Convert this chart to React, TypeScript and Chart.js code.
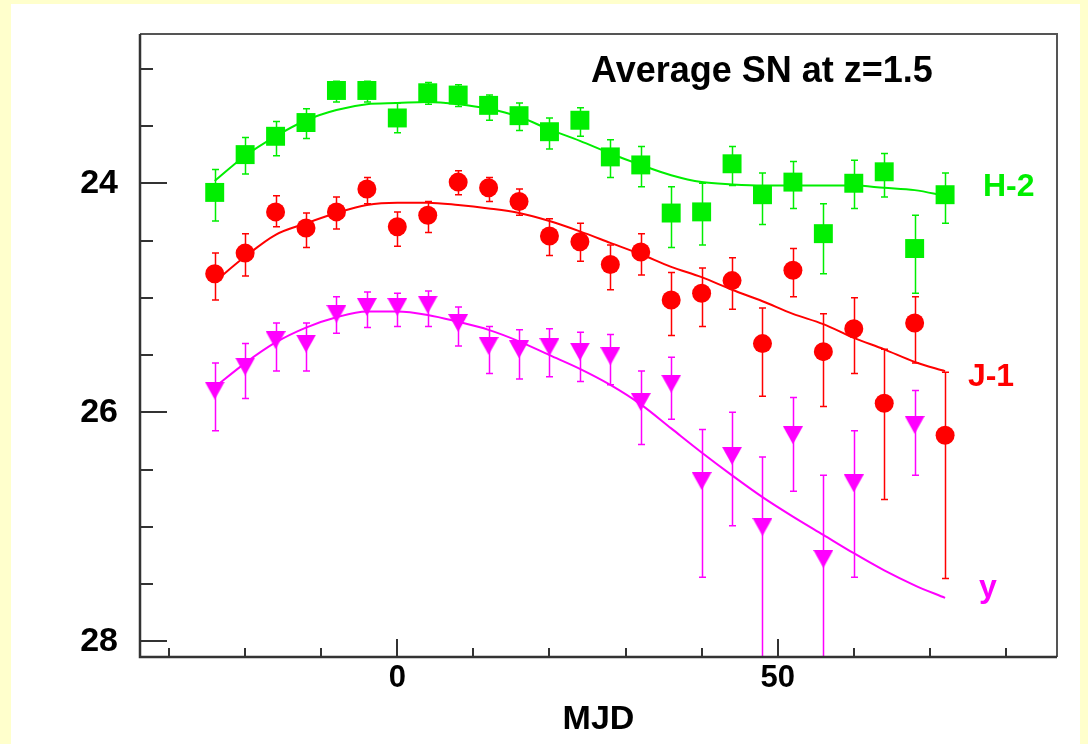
import React, { useEffect, useRef } from "react";
import { Chart, registerables } from "chart.js";

Chart.register(...registerables);

// ---- data ----
const days = [-24, -20, -16, -12, -8, -4, 0, 4, 8, 12, 16, 20, 24, 28, 32, 36, 40, 44, 48, 52, 56, 60, 64, 68, 72];

// H-2 (green squares)
const hMag = [24.08, 23.75, 23.59, 23.47, 23.19, 23.19, 23.43, 23.21, 23.23, 23.32, 23.41, 23.55, 23.45, 23.77, 23.84, 24.26, 24.25, 23.83, 24.10, 23.99, 24.44, 24.00, 23.90, 24.57, 24.10];
const hErrUp = [0.20, 0.15, 0.13, 0.12, 0.08, 0.08, 0.13, 0.09, 0.09, 0.09, 0.11, 0.12, 0.11, 0.15, 0.16, 0.23, 0.25, 0.15, 0.19, 0.18, 0.26, 0.20, 0.16, 0.29, 0.19];
const hErrDown = [0.25, 0.17, 0.17, 0.14, 0.10, 0.10, 0.13, 0.10, 0.10, 0.13, 0.13, 0.15, 0.14, 0.18, 0.19, 0.30, 0.29, 0.19, 0.26, 0.23, 0.35, 0.22, 0.22, 0.39, 0.25];

// J-1 (red circles)
const jMag = [24.79, 24.61, 24.25, 24.39, 24.25, 24.05, 24.38, 24.28, 23.99, 24.04, 24.16, 24.46, 24.51, 24.71, 24.60, 25.02, 24.96, 24.85, 25.40, 24.76, 25.47, 25.27, 25.92, 25.22, 26.20];
const jErrUp = [0.18, 0.17, 0.14, 0.13, 0.13, 0.10, 0.13, 0.12, 0.10, 0.09, 0.11, 0.15, 0.16, 0.17, 0.16, 0.24, 0.22, 0.20, 0.31, 0.19, 0.33, 0.27, 0.47, 0.23, 0.55];
const jErrDown = [0.23, 0.20, 0.13, 0.17, 0.15, 0.13, 0.17, 0.15, 0.11, 0.12, 0.12, 0.17, 0.17, 0.22, 0.20, 0.31, 0.29, 0.25, 0.46, 0.23, 0.48, 0.39, 0.84, 0.35, 1.25];

// y (magenta down-triangles)
const yMag = [25.81, 25.60, 25.37, 25.40, 25.14, 25.08, 25.08, 25.06, 25.22, 25.42, 25.45, 25.43, 25.47, 25.51, 25.91, 25.75, 26.60, 26.38, 27.00, 26.20, 27.28, 26.62, null, 26.11, null];
const yErrUp = [0.24, 0.20, 0.15, 0.18, 0.15, 0.13, 0.12, 0.12, 0.14, 0.17, 0.17, 0.16, 0.17, 0.19, 0.27, 0.23, 0.45, 0.38, 0.61, 0.33, 0.73, 0.46, null, 0.30, null];
const yErrDown = [0.35, 0.28, 0.27, 0.24, 0.17, 0.18, 0.17, 0.19, 0.20, 0.24, 0.26, 0.26, 0.26, 0.25, 0.37, 0.31, 0.84, 0.61, 1.5, 0.49, 1.5, 0.82, null, 0.44, null];

// fitted template curves
const fitDays = [-24, -20, -16, -12, -8, -4, 0, 4, 8, 12, 16, 20, 24, 28, 32, 36, 40, 44, 48, 52, 56, 60, 64, 68, 72];
const hFit = [23.98, 23.76, 23.59, 23.45, 23.36, 23.31, 23.30, 23.29, 23.31, 23.35, 23.42, 23.53, 23.63, 23.74, 23.84, 23.93, 23.99, 24.01, 24.02, 24.02, 24.02, 24.02, 24.04, 24.06, 24.11];
const jFit = [24.86, 24.64, 24.45, 24.35, 24.26, 24.19, 24.17, 24.17, 24.19, 24.22, 24.26, 24.33, 24.42, 24.52, 24.62, 24.73, 24.82, 24.93, 25.03, 25.14, 25.23, 25.35, 25.45, 25.56, 25.64];
const yFit = [25.78, 25.57, 25.39, 25.26, 25.17, 25.12, 25.12, 25.15, 25.21, 25.28, 25.38, 25.50, 25.62, 25.76, 25.93, 26.14, 26.35, 26.55, 26.74, 26.91, 27.07, 27.23, 27.38, 27.51, 27.62];

// axes
const xTickLabels = [0, 50];
const xMinorTicks = [-30, -20, -10, 0, 10, 20, 30, 40, 50, 60, 70, 80];
const yTickLabels = [24, 26, 28];
const yMinorTicks = [23, 23.5, 24, 24.5, 25, 25.5, 26, 26.5, 27, 27.5, 28];
const xMin = -33.82;
const xMax = 86.71;
const yMin = 22.697;
const yMax = 28.136;

const titleText = "Average SN at z=1.5";
const xTitle = "MJD";
const seriesLabels = ["H-2", "J-1", "y"];
const seriesColors = ["#00ee00", "#ff0000", "#ff00ff"];
// label anchors in data units (day, mag)
const labelDays = [76.97, 75.0, 76.45];
const labelMags = [24.11, 25.77, 27.61];

const FONT = "'Liberation Sans', Arial, Helvetica, sans-serif";

function pts(xs: number[], ys: (number | null)[]) {
  const out: { x: number; y: number }[] = [];
  xs.forEach((x, i) => {
    const v = ys[i];
    if (v !== null && v !== undefined) out.push({ x, y: v });
  });
  return out;
}

function makeDownTriangle(color: string, w: number, h: number) {
  const c = document.createElement("canvas");
  c.width = w;
  c.height = h;
  const g = c.getContext("2d")!;
  g.fillStyle = color;
  g.beginPath();
  g.moveTo(0, 0);
  g.lineTo(w, 0);
  g.lineTo(w / 2, h);
  g.closePath();
  g.fill();
  return c;
}

const errorSets = [
  { mag: hMag, up: hErrUp, down: hErrDown, color: seriesColors[0] },
  { mag: jMag, up: jErrUp, down: jErrDown, color: seriesColors[1] },
  { mag: yMag, up: yErrUp, down: yErrDown, color: seriesColors[2] },
];

const decorPlugin = {
  id: "decor",
  beforeDraw(chart: any) {
    const ctx = chart.ctx;
    ctx.save();
    ctx.fillStyle = "#ffffcc";
    ctx.fillRect(0, 0, chart.width, chart.height);
    ctx.fillStyle = "#ffffff";
    ctx.fillRect(11, 4, 1069, 740);
    ctx.restore();
  },
  beforeDatasetsDraw(chart: any) {
    const ctx = chart.ctx;
    const xs = chart.scales.x;
    const ys = chart.scales.y;
    const a = chart.chartArea;
    ctx.save();
    ctx.beginPath();
    ctx.rect(a.left, a.top, a.right - a.left, a.bottom - a.top);
    ctx.clip();
    ctx.lineWidth = 1.5;
    errorSets.forEach((s) => {
      ctx.strokeStyle = s.color;
      days.forEach((d, i) => {
        const m = s.mag[i];
        if (m === null || m === undefined) return;
        const px = Math.round(xs.getPixelForValue(d)) + 0.5;
        const top = ys.getPixelForValue(m - (s.up[i] as number));
        const bot = ys.getPixelForValue(m + (s.down[i] as number));
        ctx.beginPath();
        ctx.moveTo(px, top);
        ctx.lineTo(px, bot);
        ctx.moveTo(px - 3.5, top);
        ctx.lineTo(px + 3.5, top);
        ctx.moveTo(px - 3.5, bot);
        ctx.lineTo(px + 3.5, bot);
        ctx.stroke();
      });
    });
    ctx.restore();
  },
  afterDraw(chart: any) {
    const ctx = chart.ctx;
    const xs = chart.scales.x;
    const ys = chart.scales.y;
    const a = chart.chartArea;
    ctx.save();
    // frame (top/right)
    ctx.strokeStyle = "#555555";
    ctx.lineWidth = 2;
    ctx.beginPath();
    ctx.moveTo(a.left, a.top);
    ctx.lineTo(a.right, a.top);
    ctx.lineTo(a.right, a.bottom);
    ctx.stroke();
    // axes (left/bottom)
    ctx.strokeStyle = "#333333";
    ctx.lineWidth = 2.5;
    ctx.beginPath();
    ctx.moveTo(a.left, a.top);
    ctx.lineTo(a.left, a.bottom);
    ctx.lineTo(a.right, a.bottom);
    ctx.stroke();
    // y ticks (inward)
    ctx.lineWidth = 2;
    ctx.beginPath();
    yMinorTicks.forEach((v) => {
      const py = Math.round(ys.getPixelForValue(v));
      const len = yTickLabels.includes(v) ? 27 : 13;
      ctx.moveTo(a.left, py);
      ctx.lineTo(a.left + len, py);
    });
    // x ticks (inward)
    xMinorTicks.forEach((v) => {
      const px = Math.round(xs.getPixelForValue(v));
      const len = xTickLabels.includes(v) ? 18 : 9;
      ctx.moveTo(px, a.bottom);
      ctx.lineTo(px, a.bottom - len);
    });
    ctx.stroke();
    // title
    ctx.fillStyle = "#000000";
    ctx.font = `bold 36px ${FONT}`;
    ctx.textAlign = "left";
    ctx.textBaseline = "alphabetic";
    ctx.fillText(titleText, 591, 82);
    // series labels
    ctx.font = `bold 32px ${FONT}`;
    seriesLabels.forEach((t, i) => {
      ctx.fillStyle = seriesColors[i];
      ctx.fillText(t, xs.getPixelForValue(labelDays[i]), ys.getPixelForValue(labelMags[i]));
    });
    ctx.restore();
  },
};

export default function App() {
  const ref = useRef<HTMLCanvasElement | null>(null);
  useEffect(() => {
    if (!ref.current) return;
    const tri = makeDownTriangle(seriesColors[2], 20, 18);
    const chart = new Chart(ref.current, {
      type: "scatter",
      data: {
        datasets: [
          {
            label: "H-2",
            data: pts(days, hMag),
            pointStyle: "rect",
            pointRadius: 13.4,
            pointBorderWidth: 0,
            backgroundColor: seriesColors[0],
            borderColor: seriesColors[0],
            showLine: false,
          },
          {
            label: "J-1",
            data: pts(days, jMag),
            pointStyle: "circle",
            pointRadius: 9.5,
            pointBorderWidth: 0,
            backgroundColor: seriesColors[1],
            borderColor: seriesColors[1],
            showLine: false,
          },
          {
            label: "y",
            data: pts(days, yMag),
            pointStyle: tri as any,
            pointRadius: 9,
            backgroundColor: seriesColors[2],
            borderColor: seriesColors[2],
            showLine: false,
          },
          {
            label: "H fit",
            data: pts(fitDays, hFit),
            showLine: true,
            pointRadius: 0,
            borderColor: seriesColors[0],
            borderWidth: 2,
            cubicInterpolationMode: "monotone",
          },
          {
            label: "J fit",
            data: pts(fitDays, jFit),
            showLine: true,
            pointRadius: 0,
            borderColor: seriesColors[1],
            borderWidth: 2,
            cubicInterpolationMode: "monotone",
          },
          {
            label: "y fit",
            data: pts(fitDays, yFit),
            showLine: true,
            pointRadius: 0,
            borderColor: seriesColors[2],
            borderWidth: 2,
            cubicInterpolationMode: "monotone",
          },
        ],
      } as any,
      options: {
        animation: false,
        responsive: false,
        devicePixelRatio: 1,
        layout: { padding: { left: 0, top: 34, right: 31, bottom: 0 } },
        plugins: {
          legend: { display: false },
          tooltip: { enabled: false },
          title: { display: false },
        },
        events: [],
        scales: {
          x: {
            type: "linear",
            min: xMin,
            max: xMax,
            grid: { display: false, drawTicks: false },
            border: { display: false },
            afterBuildTicks: (s: any) => {
              s.ticks = xTickLabels.map((v) => ({ value: v }));
            },
            afterFit: (s: any) => {
              s.height = 87;
              s.paddingLeft = 0;
              s.paddingRight = 0;
            },
            ticks: {
              color: "#000",
              padding: 3,
              font: { family: FONT, size: 31, weight: "bold" },
              callback: (v: any) => String(v),
              maxRotation: 0,
              autoSkip: false,
            },
            title: {
              display: true,
              text: xTitle,
              color: "#000",
              font: { family: FONT, size: 34, weight: "bold" },
              padding: { top: 0, bottom: 4 },
            },
          },
          y: {
            type: "linear",
            reverse: true,
            min: yMin,
            max: yMax,
            grid: { display: false, drawTicks: false },
            border: { display: false },
            afterBuildTicks: (s: any) => {
              s.ticks = yTickLabels.map((v) => ({ value: v }));
            },
            afterFit: (s: any) => {
              s.width = 140;
              s.paddingTop = 0;
              s.paddingBottom = 0;
            },
            ticks: {
              color: "#000",
              padding: 22,
              font: { family: FONT, size: 34, weight: "bold" },
              callback: (v: any) => String(v),
              autoSkip: false,
            },
          },
        },
      } as any,
      plugins: [decorPlugin],
    });
    return () => chart.destroy();
  }, []);
  return (
    <div style={{ position: "absolute", left: 0, top: 0, width: 1088, height: 744 }}>
      <canvas ref={ref} width={1088} height={744} style={{ width: 1088, height: 744, display: "block" }} />
    </div>
  );
}
